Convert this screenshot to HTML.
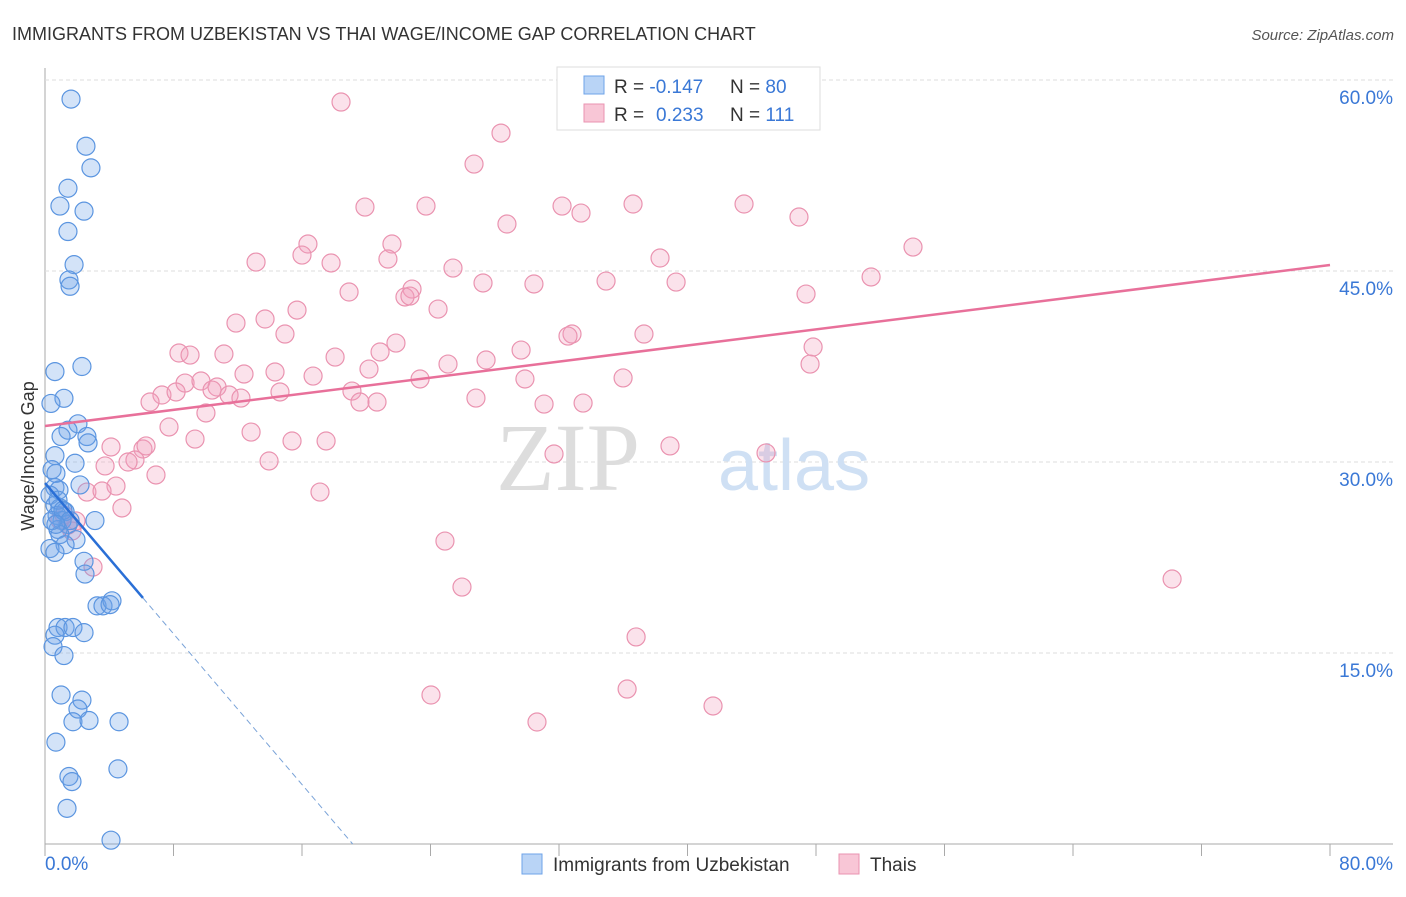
<!DOCTYPE html>
<html><head><meta charset="utf-8"><style>
body{margin:0;background:#fff;font-family:"Liberation Sans",sans-serif;}
</style></head><body>
<svg id="chart" width="1406" height="892" xmlns="http://www.w3.org/2000/svg" font-family="Liberation Sans, sans-serif">
<text x="12" y="40" font-size="18" fill="#333">IMMIGRANTS FROM UZBEKISTAN VS THAI WAGE/INCOME GAP CORRELATION CHART</text>
<text x="1394" y="40" font-size="15" fill="#555" font-style="italic" text-anchor="end">Source: ZipAtlas.com</text>
<g id="grid"></g>
<text x="640" y="490" font-size="96" fill="#ddd" text-anchor="end" font-family="Liberation Serif, serif">ZIP</text>
<text x="718" y="490" font-size="72" fill="#cfe0f4">atlas</text>
<g id="marks"></g>
<g id="lines"></g>
<text transform="translate(34,456) rotate(-90)" font-size="18" fill="#333" text-anchor="middle">Wage/Income Gap</text>
<g>
<rect x="557" y="67" width="263" height="63" fill="#fff" stroke="#ddd"/>
<rect x="584" y="76" width="20" height="18" fill="#b9d4f6" stroke="#6ea3e8"/>
<rect x="584" y="104" width="20" height="18" fill="#f8c6d6" stroke="#ea93b0"/>
<text x="614" y="93" font-size="19" fill="#333">R = <tspan fill="#3a78d6">-0.147</tspan><tspan x="730">N = </tspan><tspan fill="#3a78d6">80</tspan></text>
<text x="614" y="121" font-size="19" fill="#333">R = <tspan x="656" fill="#3a78d6">0.233</tspan><tspan x="730">N = </tspan><tspan fill="#3a78d6">111</tspan></text>
</g>
<g>
<rect x="522" y="854" width="20" height="20" fill="#b9d4f6" stroke="#6ea3e8"/>
<text x="553" y="871" font-size="19" fill="#333">Immigrants from Uzbekistan</text>
<rect x="839" y="854" width="20" height="20" fill="#f8c6d6" stroke="#ea93b0"/>
<text x="870" y="871" font-size="19" fill="#333">Thais</text>
</g>
</svg>
<script>
const yTicks=[15,30,45,60];
const yTickLabels=["15.0%","30.0%","45.0%","60.0%"];
const xTickLabels=["0.0%","80.0%"];
const blueX=[1.62,2.55,2.86,1.43,0.93,2.43,1.43,1.81,1.49,1.56,2.30,0.62,1.18,0.37,2.05,1.43,1.00,2.61,2.68,0.62,1.87,0.44,0.68,2.18,0.62,0.87,0.31,0.62,0.93,1.25,0.75,1.06,3.11,1.43,0.81,0.93,1.93,1.25,0.31,0.62,2.43,2.49,3.24,3.61,4.17,4.05,0.81,1.25,1.74,2.43,0.62,0.50,1.18,1.00,2.30,2.05,1.74,2.74,4.61,0.68,1.49,1.68,4.54,1.37,4.11,0.44,0.81,1.12,1.56,0.68];
const blueY=[58.5,54.8,53.1,51.5,50.1,49.7,48.1,45.5,44.3,43.8,37.5,37.1,35.0,34.6,33.0,32.5,32.0,32.0,31.5,30.5,29.9,29.4,29.1,28.2,28.0,27.8,27.4,26.6,26.4,26.1,25.8,25.4,25.4,25.1,24.7,24.3,23.9,23.5,23.2,22.9,22.2,21.2,18.7,18.7,19.1,18.8,17.0,17.0,17.0,16.6,16.4,15.5,14.8,11.7,11.3,10.6,9.6,9.7,9.6,8.0,5.3,4.9,5.9,2.8,0.3,25.4,27.0,26.2,25.4,25.1];
const pinkX=[18.43,28.39,26.71,19.92,23.72,32.19,33.37,36.61,43.52,46.94,28.76,16.37,21.60,54.04,13.14,16.00,17.81,21.35,25.40,38.29,51.43,27.27,30.44,34.93,39.29,18.93,22.85,22.41,22.72,47.38,15.69,24.47,11.89,13.70,14.94,32.81,32.56,37.29,21.85,29.64,47.82,8.34,9.03,11.14,18.06,20.86,27.46,25.09,47.63,12.39,14.32,16.69,20.17,23.35,29.88,35.99,8.72,9.71,10.71,10.40,14.63,7.28,8.16,11.46,12.20,19.11,19.61,20.67,26.83,31.07,33.50,6.54,10.02,7.72,12.83,15.38,17.50,9.34,4.11,6.10,6.29,31.69,38.91,44.89,5.60,5.17,3.74,13.95,6.91,4.42,2.61,3.55,17.12,4.79,1.93,1.68,24.90,2.99,25.96,70.17,36.80,24.03,36.24,41.59,30.63,0.93,1.43,1.18];
const pinkY=[58.27,55.83,53.40,50.02,50.10,50.10,49.55,50.26,50.26,49.24,48.69,47.12,47.12,46.88,45.70,46.25,45.63,45.94,45.23,46.02,44.53,44.06,43.98,44.21,44.13,43.35,43.58,42.96,43.03,43.19,41.93,42.01,40.91,41.23,40.05,40.05,39.89,40.05,39.34,38.79,39.03,38.56,38.40,38.48,38.24,38.64,38.01,37.69,37.69,36.91,37.07,36.75,37.30,36.52,36.52,36.60,36.20,36.36,35.89,35.65,35.50,35.26,35.50,35.26,35.02,35.57,34.71,34.71,35.02,34.55,34.63,34.71,33.85,32.75,32.35,31.65,31.65,31.80,31.18,31.02,31.26,30.63,31.26,30.71,30.16,30.00,29.69,30.08,28.98,28.11,27.64,27.72,27.64,26.39,25.37,24.58,23.79,21.75,20.18,20.81,16.26,11.70,12.17,10.84,9.58,25.44,25.05,25.84];
const pinkTrend=[32.83,0.158];
const blueTrend=[28.35,-1.48];

const NS="http://www.w3.org/2000/svg";
const X0=45,X1=1330,Y0=844,Yp=191/15;
function sx(v){return X0+(v/80)*(X1-X0);}
function sy(v){return Y0-v*Yp;}
function mk(tag,attrs,parent){const e=document.createElementNS(NS,tag);for(const k in attrs)e.setAttribute(k,attrs[k]);parent.appendChild(e);return e;}
const grid=document.getElementById('grid');
const marks=document.getElementById('marks');
const lines=document.getElementById('lines');
let ax=mk('line',{x1:X0,y1:68,x2:X0,y2:Y0,stroke:'#aaa'},grid);


let bx=mk('line',{x1:X0,y1:Y0,x2:1393,y2:Y0,stroke:'#aaa'},grid);


for(let i=0;i<=10;i++){const px=sx(i*8);
 const t=mk('line',{x1:px,y1:Y0,x2:px,y2:Y0+12,stroke:'#aaa'},grid);
 
 }
yTicks.forEach((v,i)=>{
 const g=mk('line',{x1:X0,y1:sy(v),x2:1393,y2:sy(v),stroke:'#ddd','stroke-dasharray':'4,3'},grid);
 
 
 const t=mk('text',{x:1393,y:sy(v)+24,'font-size':19,fill:'#3a78d6','text-anchor':'end'},grid);
 t.textContent=yTickLabels[i];
 
 
});
let xl=mk('text',{x:45,y:870,'font-size':19,fill:'#3a78d6'},grid);xl.textContent=xTickLabels[0];


let xr=mk('text',{x:1393,y:870,'font-size':19,fill:'#3a78d6','text-anchor':'end'},grid);xr.textContent=xTickLabels[1];


pinkX.forEach((v,i)=>{const c=mk('circle',{cx:sx(v),cy:sy(pinkY[i]),r:9,fill:'rgba(242,160,188,0.3)',stroke:'#ea93b0','stroke-width':1.2},marks);
 
 });
blueX.forEach((v,i)=>{const c=mk('circle',{cx:sx(v),cy:sy(blueY[i]),r:9,fill:'rgba(110,163,232,0.3)',stroke:'#5b95e0','stroke-width':1.2},marks);
 
 });
let pl=mk('line',{x1:sx(0),y1:sy(pinkTrend[0]),x2:sx(80),y2:sy(pinkTrend[0]+80*pinkTrend[1]),stroke:'#e8709a','stroke-width':2.5},lines);


const bxEnd=6.1, bxZero=-blueTrend[0]/blueTrend[1];
let bl=mk('line',{x1:sx(0),y1:sy(blueTrend[0]),x2:sx(bxEnd),y2:sy(blueTrend[0]+bxEnd*blueTrend[1]),stroke:'#2a6fd6','stroke-width':2.5},lines);


let bd=mk('line',{x1:sx(bxEnd),y1:sy(blueTrend[0]+bxEnd*blueTrend[1]),x2:sx(bxZero),y2:sy(0),stroke:'#7aa3d8','stroke-width':1,'stroke-dasharray':'6,4'},lines);


</script>
</body></html>
